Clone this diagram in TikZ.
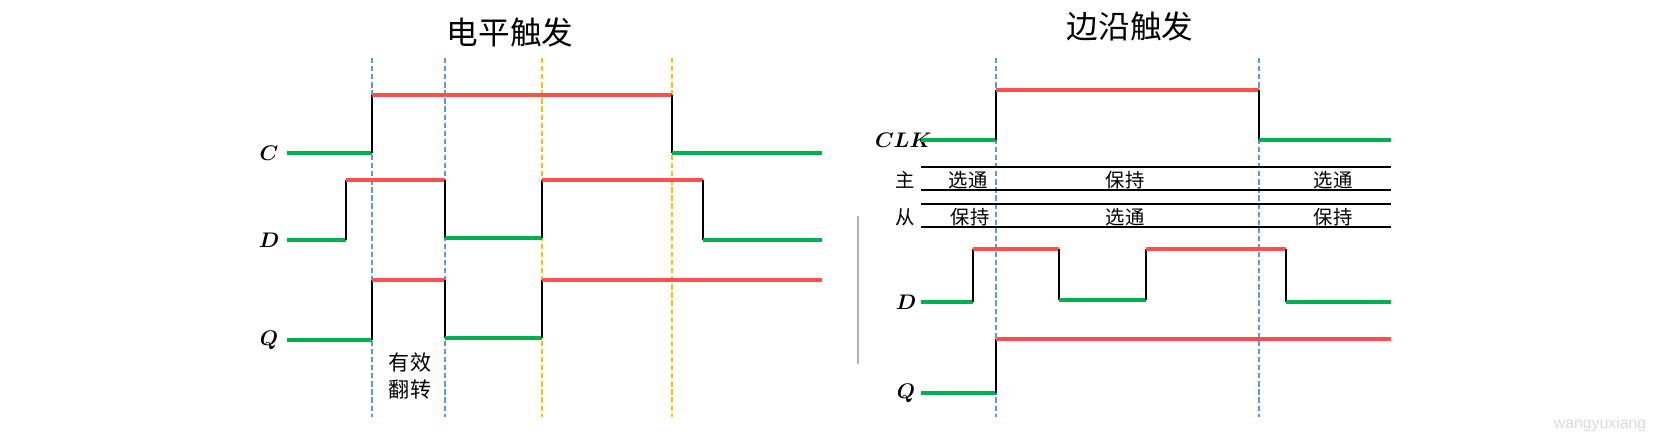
\documentclass[tikz,border=0pt]{standalone}
\usepackage{fontspec}
\usepackage{xcolor}
\usepackage{tikz}
\newfontfamily\cjk{Noto Sans CJK SC}
\newfontfamily\wmfont{Liberation Sans}
\definecolor{sigGreen}{HTML}{00B050}
\definecolor{sigRed}{HTML}{FF5050}
\definecolor{tickBlue}{HTML}{5B9BD5}
\definecolor{tickOrange}{HTML}{FFC000}

\begin{document}
\begin{tikzpicture}[
  x=0.02cm, y=-0.02cm,
  lo/.style={draw=sigGreen, line width=2.3pt},
  hi/.style={draw=sigRed, line width=2.3pt},
  edge/.style={draw=black, line width=1.2pt},
  tick/.style={line width=0.8pt, dash pattern=on 3pt off 1.6pt},
  rail/.style={draw=black, line width=1.1pt},
  sig/.style={font=\large\boldmath},
  title/.style={font=\cjk\fontsize{18}{20}\selectfont},
  note/.style={font=\cjk\fontsize{11}{13}\selectfont},
]
  \useasboundingbox (0,0) rectangle (1656,440);

  % level triggered
  \node[title] (lvTitle) at (510,32) {电平触发};
  \draw[tick, tickBlue] (372,58) -- (372,417);
  \draw[tick, tickBlue] (445,58) -- (445,417);
  \draw[tick, tickOrange] (542,58) -- (542,417);
  \draw[tick, tickOrange] (672,58) -- (672,417);

  \node[sig] (lvC) at (269,153) {$C$};
  \draw[lo] (287,153) -- (372,153);
  \draw[edge] (372,153) -- (372,95);
  \draw[hi] (372,95) -- (672,95);
  \draw[edge] (672,95) -- (672,153);
  \draw[lo] (672,153) -- (822,153);

  \node[sig] (lvD) at (269,240) {$D$};
  \draw[lo] (287,240) -- (346,240);
  \draw[edge] (346,240) -- (346,180);
  \draw[hi] (346,180) -- (445,180);
  \draw[edge] (445,180) -- (445,238);
  \draw[lo] (445,238) -- (542,238);
  \draw[edge] (542,238) -- (542,180);
  \draw[hi] (542,180) -- (703,180);
  \draw[edge] (703,180) -- (703,240);
  \draw[lo] (703,240) -- (822,240);

  \node[sig] (lvQ) at (269,340) {$Q$};
  \draw[lo] (287,340) -- (372,340);
  \draw[edge] (372,340) -- (372,280);
  \draw[hi] (372,280) -- (445,280);
  \draw[edge] (445,280) -- (445,338);
  \draw[lo] (445,338) -- (542,338);
  \draw[edge] (542,338) -- (542,280);
  \draw[hi] (542,280) -- (822,280);

  \node[note, align=center, font=\cjk\fontsize{12}{15}\selectfont] (valid) at (410,376) {有效\\翻转};

  % divider
  \draw[gray!60, line width=0.8pt] (858,216) -- (858,364);

  % edge triggered
  \node[title] (egTitle) at (1130,26) {边沿触发};
  \draw[tick, tickBlue] (996,58) -- (996,417);
  \draw[tick, tickBlue] (1259,58) -- (1259,417);

  \node[sig, anchor=east, inner sep=0pt] (egClk) at (932,140) {$CLK$};
  \draw[lo] (921,140) -- (996,140);
  \draw[edge] (996,140) -- (996,90);
  \draw[hi] (996,90) -- (1259,90);
  \draw[edge] (1259,90) -- (1259,140);
  \draw[lo] (1259,140) -- (1391,140);

  \node[note] (master) at (905,180) {主};
  \draw[rail] (921,167) -- (1391,167);
  \draw[rail] (921,190) -- (1391,190);
  \node[note] (mPass1) at (968,180) {选通};
  \node[note] (mHold) at (1125,180) {保持};
  \node[note] (mPass2) at (1333,180) {选通};

  \node[note] (slave) at (905,217) {从};
  \draw[rail] (921,204) -- (1391,204);
  \draw[rail] (921,227) -- (1391,227);
  \node[note] (sHold1) at (970,217) {保持};
  \node[note] (sPass) at (1125,217) {选通};
  \node[note] (sHold2) at (1333,217) {保持};

  \node[sig] (egD) at (906,302) {$D$};
  \draw[lo] (921,302) -- (973,302);
  \draw[edge] (973,302) -- (973,249);
  \draw[hi] (973,249) -- (1059,249);
  \draw[edge] (1059,249) -- (1059,300);
  \draw[lo] (1059,300) -- (1146,300);
  \draw[edge] (1146,300) -- (1146,249);
  \draw[hi] (1146,249) -- (1286,249);
  \draw[edge] (1286,249) -- (1286,302);
  \draw[lo] (1286,302) -- (1391,302);

  \node[sig] (egQ) at (906,393) {$Q$};
  \draw[lo] (921,393) -- (996,393);
  \draw[edge] (996,393) -- (996,339);
  \draw[hi] (996,339) -- (1391,339);

  \node[font=\wmfont\small, text=gray!30] (mark) at (1600,424) {wangyuxiang};
\end{tikzpicture}
\end{document}
